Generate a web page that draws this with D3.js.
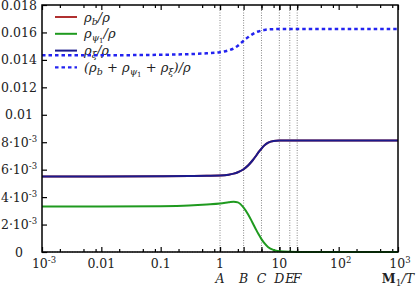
<!DOCTYPE html>
<html>
<head>
<meta charset="utf-8">
<script src="https://cdn.jsdelivr.net/npm/d3@7"></script>
<style>
  body { margin: 0; background: #fff; }
  svg text { font-family: "DejaVu Serif", "Liberation Serif", "Times New Roman", serif; }
</style>
</head>
<body>
<div id="chart"></div>
<script>
// x values (M1/T), log spaced by hand
const xs = [0.001, 0.01, 0.1, 0.3, 0.6, 1, 1.4, 1.7, 2, 2.5, 3, 3.5, 4, 4.5, 5, 5.6, 6.5, 8, 10, 15, 20, 50, 100, 1000];
// rho_b / rho (sits under the navy curve)
const rhoB  = [0.00551, 0.00551, 0.00552, 0.00553, 0.00555, 0.00557, 0.00563, 0.00571, 0.00581, 0.00603, 0.00632, 0.00665, 0.00698, 0.00729, 0.00754, 0.00777, 0.00797, 0.00809, 0.00812, 0.00813, 0.00813, 0.00813, 0.00813, 0.00813];
// rho_psi1 / rho
const rhoPsi = [0.00331, 0.00331, 0.00334, 0.00339, 0.00346, 0.00353, 0.00362, 0.00367, 0.00362, 0.00324, 0.00272, 0.00217, 0.00168, 0.00127, 0.00094, 0.00064, 0.00035, 0.00015, 0.00006, 0.00001, 0, 0, 0, 0];
// rho_xi / rho
const rhoXi = [0.00551, 0.00551, 0.00552, 0.00553, 0.00555, 0.00557, 0.00563, 0.00571, 0.00581, 0.00603, 0.00632, 0.00665, 0.00698, 0.00729, 0.00754, 0.00777, 0.00797, 0.00809, 0.00812, 0.00813, 0.00813, 0.00813, 0.00813, 0.00813];
// (rho_b + rho_psi1 + rho_xi) / rho
const rhoTot = [0.01434, 0.01434, 0.01437, 0.01442, 0.01448, 0.01456, 0.01470, 0.01484, 0.01503, 0.01540, 0.01566, 0.01586, 0.01600, 0.01608, 0.01614, 0.01618, 0.01622, 0.01624, 0.01625, 0.01625, 0.01625, 0.01625, 0.01625, 0.01625];

const markerNames = ["A", "B", "C", "D", "E", "F"];
const markerX = [1, 2.5, 5, 10, 15, 20];

const xTicks = [0.001, 0.01, 0.1, 1, 10, 100, 1000];
const xTickLabels = [["10", "-3"], ["0.01"], ["0.1"], ["1"], ["10"], ["10", "2"], ["10", "3"]];
const yTicks = [0, 0.002, 0.004, 0.006, 0.008, 0.01, 0.012, 0.014, 0.016, 0.018];
const yTickLabels = [["0"], ["2·10", "-3"], ["4·10", "-3"], ["6·10", "-3"], ["8·10", "-3"], ["0.01"], ["0.012"], ["0.014"], ["0.016"], ["0.018"]];

const W = 416, H = 288;
const margin = { top: 5, right: 18, bottom: 36, left: 42 };
const iw = W - margin.left - margin.right, ih = H - margin.top - margin.bottom;

const svg = d3.select("#chart").append("svg")
    .attr("width", W).attr("height", H);

const x = d3.scaleLog().domain([0.001, 1000]).range([0, iw]);
const y = d3.scaleLinear().domain([0, 0.018]).range([ih, 0]);

const g = svg.append("g").attr("transform", `translate(${margin.left},${margin.top})`);

// minor ticks at 2,5,8 per decade
const minor = [];
for (let e = -3; e < 3; e++) [2, 5, 8].forEach(m => minor.push(m * Math.pow(10, e)));

// zero line
g.append("line").attr("x1", 0).attr("x2", iw).attr("y1", y(0)).attr("y2", y(0))
    .attr("stroke", "#888").attr("stroke-width", 1).attr("stroke-dasharray", "1,1.5");

// marker lines
g.selectAll("line.mark").data(markerX).enter().append("line")
    .attr("class", "mark")
    .attr("x1", d => x(d)).attr("x2", d => x(d))
    .attr("y1", 0).attr("y2", ih)
    .attr("stroke", "#888").attr("stroke-width", 1).attr("stroke-dasharray", "1,1.5");

// ticks via axes, pointing inward
const bottomG = g.append("g").attr("transform", `translate(0,${ih})`);
bottomG.call(d3.axisBottom(x).tickValues(minor).tickSize(-3).tickFormat(""));
bottomG.append("g").call(d3.axisBottom(x).tickValues(xTicks.concat(markerX)).tickSize(-5).tickFormat(""));
const topG = g.append("g");
topG.call(d3.axisTop(x).tickValues(minor).tickSize(-3).tickFormat(""));
topG.append("g").call(d3.axisTop(x).tickValues(xTicks.concat(markerX)).tickSize(-5).tickFormat(""));
const leftG = g.append("g");
leftG.call(d3.axisLeft(y).tickValues(yTicks).tickSize(-5).tickFormat(""));
g.selectAll(".domain").remove();
g.selectAll(".tick line").attr("stroke", "#000").attr("stroke-width", 1.2);

// curves
const line = vals => d3.line()
    .x((d, i) => x(xs[i]))
    .y(d => y(d))
    .curve(d3.curveMonotoneX)(vals);

g.append("path").attr("d", line(rhoB)).attr("fill", "none").attr("stroke", "#b03030").attr("stroke-width", 2);
g.append("path").attr("d", line(rhoPsi)).attr("fill", "none").attr("stroke", "#1f9a1f").attr("stroke-width", 2);
g.append("path").attr("d", line(rhoXi)).attr("fill", "none").attr("stroke", "#1a1a8c").attr("stroke-width", 2);

// legend
const leg = g.append("g").attr("transform", "translate(13,12)");
const legItems = [
    { color: "#b03030", dash: null, parts: [["ρ"], ["b", "sub"], ["/ρ"]] },
    { color: "#1f9a1f", dash: null, parts: [["ρ"], ["ψ", "sub"], ["1", "subsub"], ["/ρ"]] },
    { color: "#1a1a8c", dash: null, parts: [["ρ"], ["ξ", "sub"], ["/ρ"]] },
    { color: "#2323f0", dash: "3.5,3", parts: [["(ρ"], ["b", "sub"], [" + ρ"], ["ψ", "sub"], ["1", "subsub"], [" + ρ"], ["ξ", "sub"], [")/ρ"]] }
];
legItems.forEach((it, i) => {
    const row = leg.append("g").attr("transform", `translate(0,${i * 16.8})`);
    row.append("line").attr("x1", 0).attr("x2", 22).attr("y1", 0).attr("y2", 0)
        .attr("stroke", it.color).attr("stroke-width", it.dash ? 2.4 : 2)
        .attr("stroke-dasharray", it.dash);
    const t = row.append("text").attr("x", 29).attr("y", 4.5)
        .attr("font-size", 13).attr("font-style", "italic").attr("fill", "#222");
    it.parts.forEach(p => {
        const sp = t.append("tspan").text(p[0]);
        if (p[1] === "sub") sp.attr("font-size", 9.5).attr("baseline-shift", "-3");
        if (p[1] === "subsub") sp.attr("font-size", 7).attr("font-style", "normal").attr("baseline-shift", "-5");
    });
});

// total dashed line (drawn over legend)
g.append("path").attr("d", line(rhoTot)).attr("fill", "none")
    .attr("stroke", "#2323f0").attr("stroke-width", 2.5).attr("stroke-dasharray", "3.5,3");

// frame
g.append("rect").attr("width", iw).attr("height", ih)
    .attr("fill", "none").attr("stroke", "#000").attr("stroke-width", 1.5);

// tick labels
function putLabel(parent, px, py, parts, anchor) {
    const t = parent.append("text").attr("x", px).attr("y", py)
        .attr("text-anchor", anchor).attr("font-size", 12.5).attr("fill", "#222");
    t.append("tspan").text(parts[0]);
    if (parts[1]) t.append("tspan").text(parts[1]).attr("font-size", 8.5).attr("baseline-shift", "5");
    return t;
}
xTicks.forEach((v, i) => putLabel(svg, margin.left + x(v) + (xTickLabels[i][1] ? 2 : 0), 268, xTickLabels[i], "middle"));
yTicks.forEach((v, i) => putLabel(svg, 19, margin.top + y(v) + 4.5, yTickLabels[i], "middle"));

markerX.forEach((v, i) => svg.append("text")
    .attr("x", margin.left + x(v)).attr("y", 283)
    .attr("text-anchor", "middle").attr("font-size", 12.5).attr("font-style", "italic")
    .attr("fill", "#222").text(markerNames[i]));

const xl = svg.append("text").attr("x", 414).attr("y", 283).attr("text-anchor", "end")
    .attr("font-size", 12.5).attr("fill", "#222");
xl.append("tspan").text("M").attr("font-weight", "bold");
xl.append("tspan").text("1").attr("font-size", 9).attr("baseline-shift", "-3");
xl.append("tspan").text("/").attr("font-style", "italic");
xl.append("tspan").text("T").attr("font-style", "italic");
</script>
</body>
</html>
